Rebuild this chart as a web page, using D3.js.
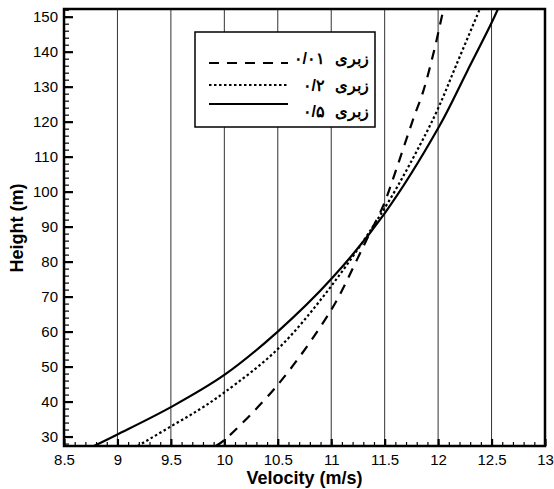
<!DOCTYPE html>
<html>
<head>
<meta charset="utf-8">
<script src="https://cdn.jsdelivr.net/npm/d3@7"></script>
<style>
  body { margin: 0; background: #fff; }
  text { font-family: "Liberation Sans", Arial, sans-serif; }
</style>
</head>
<body>
<div id="chart-area"></div>
<script>
// series: height (m) and velocity (m/s)
const HEIGHT_R001 = [27.3, 29, 44.8, 66.2, 80.5, 86.2, 96.2, 103.8, 121, 128.6, 140, 152.2]
const VEL_R001 = [9.92, 10.0, 10.5, 11.0, 11.24, 11.33, 11.49, 11.58, 11.77, 11.86, 11.96, 12.05]

const HEIGHT_R02 = [27.3, 32.9, 37.8, 42.6, 55, 73, 95.3, 113.3, 123.8, 136.2, 152.2]
const VEL_R02 = [9.19, 9.5, 9.77, 10.0, 10.5, 11.0, 11.5, 11.83, 12.0, 12.17, 12.39]

const HEIGHT_R05 = [27.3, 30.6, 38.4, 47.6, 60, 75, 93.8, 118.1, 134.3, 147.6, 152.2]
const VEL_R05 = [8.78, 9.0, 9.5, 10.0, 10.5, 11.0, 11.5, 12.0, 12.27, 12.49, 12.56]

const SERIES_WORD = "زبری"
const SERIES_VALUES = ["۰/۰۱", "۰/۲", "۰/۵"]

const X_TICKS = [8.5, 9, 9.5, 10, 10.5, 11, 11.5, 12, 12.5, 13]
const Y_TICKS = [30, 40, 50, 60, 70, 80, 90, 100, 110, 120, 130, 140, 150]

const SVG_WIDTH = 554
const SVG_HEIGHT = 489
const PLOT = { left: 64, right: 545, top: 9, bottom: 446 }

const svg = d3.select("#chart-area").append("svg")
  .attr("width", SVG_WIDTH)
  .attr("height", SVG_HEIGHT)

const x = d3.scaleLinear()
  .domain([8.5, 13])
  .range([PLOT.left, PLOT.right])

const y = d3.scaleLinear()
  .domain([27.3, 152.2])
  .range([PLOT.bottom, PLOT.top])

// vertical grid lines
svg.append("g")
  .selectAll("line")
  .data(X_TICKS.slice(1, -1))
  .enter().append("line")
  .attr("x1", d => x(d)).attr("x2", d => x(d))
  .attr("y1", PLOT.top).attr("y2", PLOT.bottom)
  .attr("stroke", "#333")
  .attr("stroke-width", 1)

// minor ticks
const xMinor = d3.range(85, 131).map(d => d / 10)
const yMinor = d3.range(28, 153, 2)

const xMinorAxis = d3.axisBottom(x).tickValues(xMinor).tickSize(-4).tickFormat("")
svg.append("g")
  .attr("transform", `translate(0, ${PLOT.bottom})`)
  .call(xMinorAxis)
  .call(g => g.select(".domain").remove())
  .call(g => g.selectAll("line").attr("stroke-width", 1.2))

const yMinorAxis = d3.axisLeft(y).tickValues(yMinor).tickSize(-5).tickFormat("")
svg.append("g")
  .attr("transform", `translate(${PLOT.left}, 0)`)
  .call(yMinorAxis)
  .call(g => g.select(".domain").remove())
  .call(g => g.selectAll("line").attr("stroke-width", 1.2))

// major axes
const xAxisCall = d3.axisBottom(x)
  .tickValues(X_TICKS)
  .tickSize(-7)
  .tickPadding(8)
  .tickFormat(d3.format("~g"))

svg.append("g")
  .attr("class", "x axis")
  .attr("transform", `translate(0, ${PLOT.bottom})`)
  .call(xAxisCall)
  .call(g => g.select(".domain").remove())
  .call(g => g.selectAll("line").attr("stroke-width", 2.2))
  .call(g => g.selectAll("text").attr("font-size", "15px").attr("fill", "#000"))

const yAxisCall = d3.axisLeft(y)
  .tickValues(Y_TICKS)
  .tickSize(-9)
  .tickPadding(6)

svg.append("g")
  .attr("class", "y axis")
  .attr("transform", `translate(${PLOT.left}, 0)`)
  .call(yAxisCall)
  .call(g => g.select(".domain").remove())
  .call(g => g.selectAll("line").attr("stroke-width", 2.2))
  .call(g => g.selectAll("text").attr("font-size", "15px").attr("fill", "#000"))

// curves
svg.append("clipPath").attr("id", "clip")
  .append("rect")
  .attr("x", PLOT.left).attr("y", PLOT.top)
  .attr("width", PLOT.right - PLOT.left)
  .attr("height", PLOT.bottom - PLOT.top)

const line = d3.line()
  .x(d => x(d[1]))
  .y(d => y(d[0]))
  .curve(d3.curveCatmullRom.alpha(0.5))

const series = [
  { h: HEIGHT_R001, v: VEL_R001, dash: "10,8", width: 2.2 },
  { h: HEIGHT_R02, v: VEL_R02, dash: "2.5,2.5", width: 2.2 },
  { h: HEIGHT_R05, v: VEL_R05, dash: null, width: 2.2 }
]

svg.append("g").attr("clip-path", "url(#clip)")
  .selectAll("path")
  .data(series)
  .enter().append("path")
  .attr("d", s => line(s.h.map((h, i) => [h, s.v[i]])))
  .attr("fill", "none")
  .attr("stroke", "#000")
  .attr("stroke-width", s => s.width)
  .attr("stroke-dasharray", s => s.dash)

// frame
svg.append("rect")
  .attr("x", PLOT.left).attr("y", PLOT.top)
  .attr("width", PLOT.right - PLOT.left)
  .attr("height", PLOT.bottom - PLOT.top)
  .attr("fill", "none")
  .attr("stroke", "#000")
  .attr("stroke-width", 2.5)

// legend
const legend = svg.append("g")
legend.append("rect")
  .attr("x", 195).attr("y", 32)
  .attr("width", 180).attr("height", 95)
  .attr("fill", "#fff")
  .attr("stroke", "#000")
  .attr("stroke-width", 1.5)

const legendRows = [
  { ly: 63, ty: 58 },
  { ly: 85, ty: 85 },
  { ly: 104, ty: 111 }
]

legendRows.forEach((r, i) => {
  legend.append("line")
    .attr("x1", 209).attr("x2", 288)
    .attr("y1", r.ly).attr("y2", r.ly)
    .attr("stroke", "#000")
    .attr("stroke-width", series[i].width)
    .attr("stroke-dasharray", series[i].dash)
  legend.append("text")
    .attr("x", 369).attr("y", r.ty)
    .attr("dy", "0.35em")
    .attr("text-anchor", "end")
    .attr("font-family", "'DejaVu Sans', sans-serif")
    .attr("font-weight", "bold")
    .attr("font-size", "16px")
    .text(SERIES_WORD)
  legend.append("text")
    .attr("x", 325).attr("y", r.ty)
    .attr("dy", "0.35em")
    .attr("text-anchor", "end")
    .attr("font-family", "'DejaVu Sans', sans-serif")
    .attr("font-weight", "bold")
    .attr("font-size", "16px")
    .text(SERIES_VALUES[i])
})

// axis titles
svg.append("text")
  .attr("x", (PLOT.left + PLOT.right) / 2)
  .attr("y", 484)
  .attr("text-anchor", "middle")
  .attr("font-size", "18px")
  .attr("font-weight", "bold")
  .text("Velocity (m/s)")

svg.append("text")
  .attr("transform", "rotate(-90)")
  .attr("x", -228)
  .attr("y", 23)
  .attr("text-anchor", "middle")
  .attr("font-size", "18px")
  .attr("font-weight", "bold")
  .text("Height (m)")
</script>
</body>
</html>
